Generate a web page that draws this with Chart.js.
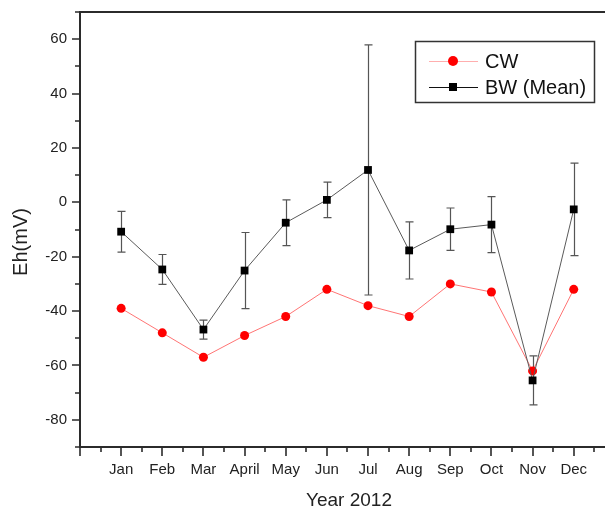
<!DOCTYPE html>
<html>
<head>
<meta charset="utf-8">
<script src="https://cdn.jsdelivr.net/npm/chart.js@4"></script>
<style>
  html, body { margin: 0; padding: 0; background: #fff; overflow: hidden; }
</style>
</head>
<body>
<canvas id="chart" width="605" height="511"></canvas>
<script>
/* Eh mensual 2012: CW vs BW (media con barras de error) */

const months = ["Jan", "Feb", "Mar", "April", "May", "Jun", "Jul", "Aug", "Sep", "Oct", "Nov", "Dec"];
const cwValues = [-39, -48, -57, -49, -42, -32, -38, -42, -30, -33, -62, -32];
const bwValues = [-10.8, -24.7, -46.8, -25.1, -7.5, 0.9, 11.9, -17.7, -9.9, -8.2, -65.5, -2.6];
const bwErrors = [7.5, 5.5, 3.5, 14, 8.4, 6.5, 46, 10.5, 7.8, 10.3, 9, 17];
const yTickLabels = [-80, -60, -40, -20, 0, 20, 40, 60];

const FONT = '"Liberation Sans", Arial, sans-serif';
const AXIS = "#2b2b2b";

const canvas = document.getElementById("chart").getContext("2d");

const noPad = s => {
  s.paddingTop = 0; s.paddingBottom = 0; s.paddingLeft = 0; s.paddingRight = 0;
};

// ticks, borde superior, titulos, leyenda y barras de error
const decor = {
  id: "decor",
  beforeDatasetsDraw(chart) {
    const ctx = chart.ctx;
    const xs = chart.scales.x, ys = chart.scales.y;
    ctx.save();
    ctx.strokeStyle = "#555";
    ctx.lineWidth = 1.2;
    bwValues.forEach((v, i) => {
      const px = Math.round(xs.getPixelForValue(i + 1)) + 0.5;
      const top = ys.getPixelForValue(v + bwErrors[i]);
      const bot = ys.getPixelForValue(v - bwErrors[i]);
      ctx.beginPath();
      ctx.moveTo(px, top); ctx.lineTo(px, bot);
      ctx.moveTo(px - 4, top); ctx.lineTo(px + 4, top);
      ctx.moveTo(px - 4, bot); ctx.lineTo(px + 4, bot);
      ctx.stroke();
    });
    ctx.restore();
  },
  afterDraw(chart) {
    const ctx = chart.ctx;
    const a = chart.chartArea;
    const xs = chart.scales.x, ys = chart.scales.y;
    ctx.save();
    ctx.strokeStyle = AXIS;
    ctx.lineWidth = 1.6;
    ctx.beginPath();
    for (let v = 0; v <= xs.max; v += 0.5) {
      const len = Number.isInteger(v) ? 9 : 5;
      const px = Math.round(xs.getPixelForValue(v));
      ctx.moveTo(px, a.bottom); ctx.lineTo(px, a.bottom + len);
    }
    for (let v = ys.min; v <= ys.max; v += 10) {
      const len = v % 20 === 0 ? 8 : 5;
      const py = Math.round(ys.getPixelForValue(v));
      ctx.moveTo(a.left - len, py); ctx.lineTo(a.left, py);
    }
    ctx.stroke();

    // borde superior
    ctx.lineWidth = 2;
    ctx.beginPath();
    ctx.moveTo(a.left, a.top); ctx.lineTo(a.right, a.top);
    ctx.stroke();

    // titulos de ejes
    ctx.fillStyle = "#222";
    ctx.textAlign = "center";
    ctx.textBaseline = "middle";
    ctx.font = "19px " + FONT;
    ctx.fillText("Year 2012", 349, 501);
    ctx.save();
    ctx.translate(21, 242);
    ctx.rotate(-Math.PI / 2);
    ctx.font = "20px " + FONT;
    ctx.fillText("Eh(mV)", 0, 0);
    ctx.restore();

    // leyenda
    ctx.lineWidth = 1.5;
    ctx.strokeStyle = "#333";
    ctx.strokeRect(415.5, 41.5, 179, 61);
    const rows = [61, 87];
    chart.data.datasets.slice().reverse().forEach((ds, k) => {
      const yy = rows[k];
      ctx.strokeStyle = ds.legendLine;
      ctx.lineWidth = 1;
      ctx.beginPath();
      ctx.moveTo(429, yy + 0.5); ctx.lineTo(478, yy + 0.5);
      ctx.stroke();
      ctx.fillStyle = ds.backgroundColor;
      if (ds.pointStyle === "circle") {
        ctx.beginPath();
        ctx.arc(453, yy, 5, 0, Math.PI * 2);
        ctx.fill();
      } else {
        ctx.fillRect(449, yy - 4, 8, 8);
      }
      ctx.fillStyle = "#111";
      ctx.textAlign = "left";
      ctx.font = "20px " + FONT;
      ctx.fillText(ds.label, 485, yy + 1);
    });
    ctx.restore();
  }
};

const data = {
  datasets: [
    {
      label: "BW (Mean)",
      data: bwValues.map((v, i) => ({ x: i + 1, y: v })),
      borderColor: "#5a5a5a",
      legendLine: "#111",
      borderWidth: 1,
      backgroundColor: "#000",
      pointBackgroundColor: "#000",
      pointBorderColor: "#000",
      pointStyle: "rect",
      pointRadius: 5.5,
      pointBorderWidth: 0,
      tension: 0
    },
    {
      label: "CW",
      data: cwValues.map((v, i) => ({ x: i + 1, y: v })),
      borderColor: "rgba(255, 70, 70, 0.75)",
      legendLine: "rgba(255, 120, 120, 0.6)",
      borderWidth: 1,
      backgroundColor: "#ff0000",
      pointBackgroundColor: "#ff0000",
      pointBorderColor: "#ff0000",
      pointStyle: "circle",
      pointRadius: 4.5,
      pointBorderWidth: 0,
      tension: 0
    }
  ]
};

const config = {
  type: "line",
  data: data,
  options: {
    responsive: false,
    animation: false,
    layout: { autoPadding: false, padding: { top: 12, left: 0, right: 0, bottom: 0 } },
    plugins: {
      legend: { display: false },
      tooltip: { enabled: false }
    },
    scales: {
      x: {
        type: "linear",
        min: 0,
        max: 12.76,
        afterBuildTicks: s => { s.ticks = months.map((m, i) => ({ value: i + 1 })); },
        afterFit: s => { s.height = 64; noPad(s); },
        grid: { display: true, drawOnChartArea: false, drawTicks: false },
        border: { display: true, color: AXIS, width: 2 },
        ticks: {
          autoSkip: false,
          maxRotation: 0,
          padding: 14,
          color: "#222",
          font: { family: FONT, size: 15 },
          callback: v => months[v - 1]
        }
      },
      y: {
        min: -90,
        max: 70,
        afterBuildTicks: s => { s.ticks = yTickLabels.map(v => ({ value: v })); },
        afterFit: s => { s.width = 80; noPad(s); },
        grid: { display: true, drawOnChartArea: false, drawTicks: false },
        border: { display: true, color: AXIS, width: 2 },
        ticks: {
          autoSkip: false,
          padding: 13,
          color: "#222",
          font: { family: FONT, size: 15 },
          callback: v => String(v)
        }
      }
    }
  },
  plugins: [decor]
};

const chart = new Chart(canvas, config);
</script>
</body>
</html>
